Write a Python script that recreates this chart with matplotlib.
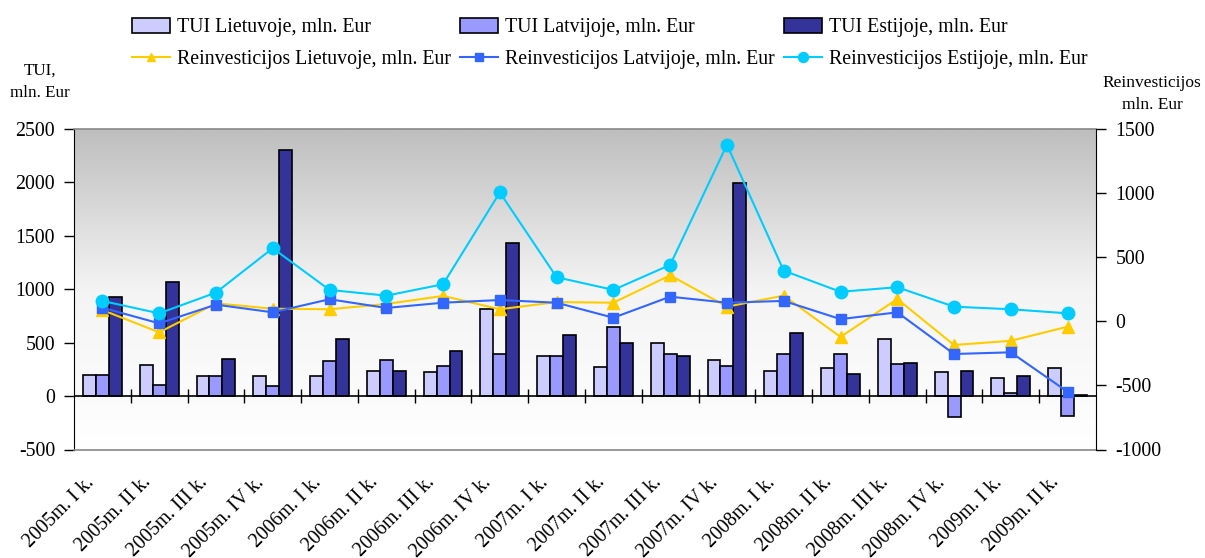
import numpy as np
import matplotlib
matplotlib.use("Agg")
import matplotlib.pyplot as plt
from matplotlib.colors import LinearSegmentedColormap
from matplotlib.transforms import ScaledTranslation

plt.rcParams['font.family'] = ['Liberation Serif', 'DejaVu Serif']
plt.rcParams['axes.unicode_minus'] = False

quarters = ["2005m. I k.", "2005m. II k.", "2005m. III k.", "2005m. IV k.",
            "2006m. I k.", "2006m. II k.", "2006m. III k.", "2006m. IV k.",
            "2007m. I k.", "2007m. II k.", "2007m. III k.", "2007m. IV k.",
            "2008m. I k.", "2008m. II k.", "2008m. III k.", "2008m. IV k.",
            "2009m. I k.", "2009m. II k."]

tui_lt = [195, 288, 185, 185, 185, 236, 223, 819, 379, 276, 494, 342, 236, 264, 536, 223, 170, 264]
tui_lv = [195, 108, 185, 92, 330, 342, 286, 392, 379, 651, 392, 286, 392, 392, 301, -192, 30, -183]
tui_ee = [925, 1069, 345, 2301, 536, 236, 420, 1431, 573, 494, 379, 1993, 588, 208, 314, 236, 185, 14]

re_lt = [88, -86, 140, 98, 94, 135, 198, 94, 150, 145, 359, 114, 200, -122, 174, -185, -152, -42]
re_lv = [106, -16, 130, 70, 172, 104, 145, 166, 145, 28, 192, 145, 159, 17, 70, -255, -242, -550]
re_ee = [159, 62, 224, 570, 245, 200, 289, 1005, 344, 245, 440, 1377, 395, 230, 266, 114, 94, 62]

labels_bar = ["TUI Lietuvoje, mln. Eur", "TUI Latvijoje, mln. Eur", "TUI Estijoje, mln. Eur"]
labels_line = ["Reinvesticijos Lietuvoje, mln. Eur", "Reinvesticijos Latvijoje, mln. Eur",
               "Reinvesticijos Estijoje, mln. Eur"]

bar_colors = ["#CCCCFF", "#9999FF", "#333399"]
line_colors = ["#FFCC00", "#3366FF", "#00CCFF"]
markers = ["^", "s", "o"]
msizes = [8, 7, 9]

FS = 14.3

W, H = 1205, 558
fig = plt.figure(figsize=(W / 100, H / 100), dpi=100)
left, right, top, bottom = 74, 1096, 129, 449.5
ax = fig.add_axes([left / W, 1 - bottom / H, (right - left) / W, (bottom - top) / H])

n = len(quarters)
x = np.arange(n)
ax.set_xlim(-0.5, n - 0.5)
ax.set_ylim(-500, 2500)

# gradient background
cmap = LinearSegmentedColormap.from_list("bg", ["#FFFFFF", "#F4F4F4", "#BEBEBE"], N=256)
grad = np.linspace(0, 1, 256).reshape(-1, 1)
ax.imshow(grad, extent=[-0.5, n - 0.5, -500, 2500], origin="lower", aspect="auto",
          cmap=cmap, zorder=0, interpolation="bilinear")

bw = 0.228
for i, (vals, c, lab) in enumerate(zip([tui_lt, tui_lv, tui_ee], bar_colors, labels_bar)):
    ax.bar(x + (i - 1) * bw, vals, width=bw, color=c, edgecolor="black", linewidth=1.2,
           label=lab, zorder=3)

# zero line with category separators
ax.axhline(0, color="black", linewidth=1.2, zorder=4)
bounds = np.arange(1, n) - 0.5
ax.vlines(bounds, -65, 65, color="black", linewidth=1, zorder=4)

ax.set_yticks(np.arange(-500, 2501, 500))
ax.set_xticks(x)
ax.set_xticklabels(quarters, rotation=45, ha="right", va="top", rotation_mode="anchor")
ax.tick_params(axis="x", length=0, pad=17, labelsize=FS)
ax.tick_params(axis="y", direction="out", length=7, width=1, labelsize=FS, pad=6.5)
offset = ScaledTranslation(-13 / 72, 0, fig.dpi_scale_trans)
for t in ax.get_xticklabels():
    t.set_transform(t.get_transform() + offset)

for s in ["top", "bottom"]:
    ax.spines[s].set_color("#888888")
    ax.spines[s].set_linewidth(1.2)
ax.spines["left"].set_color("black")
ax.spines["right"].set_visible(False)

ax2 = ax.twinx()
ax2.set_ylim(-1000, 1500)
ax2.set_yticks(np.arange(-1000, 1501, 500))
ax2.tick_params(axis="y", direction="out", length=7, width=1, labelsize=FS, pad=7)
for s in ["top", "bottom", "left"]:
    ax2.spines[s].set_visible(False)
ax2.spines["right"].set_color("black")

for vals, c, m, ms, lab in zip([re_lt, re_lv, re_ee], line_colors, markers, msizes, labels_line):
    ax2.plot(x, vals, color=c, marker=m, markersize=ms, linewidth=1.5, label=lab, zorder=5)

# legend
hb, lb = ax.get_legend_handles_labels()
hl, ll = ax2.get_legend_handles_labels()
handles, labs = [], []
for i in range(3):
    handles += [hb[i], hl[i]]
    labs += [lb[i], ll[i]]
fig.legend(handles, labs, ncol=3, loc="upper left", bbox_to_anchor=(132 / W, 1 - 18 / H),
           frameon=False, fontsize=FS, handlelength=1.92, handleheight=0.8,
           columnspacing=0.45, handletextpad=0.35, labelspacing=0.6, borderaxespad=0,
           borderpad=0, markerscale=0.8)

fig.text(40 / W, 1 - 82 / H, "TUI,\nmln. Eur", ha="center", va="center", fontsize=12.3,
         linespacing=1.5)
fig.text(1152 / W, 1 - 94 / H, "Reinvesticijos\nmln. Eur", ha="center", va="center",
         fontsize=12.5, linespacing=1.5)

fig.savefig("out.png", dpi=100)
